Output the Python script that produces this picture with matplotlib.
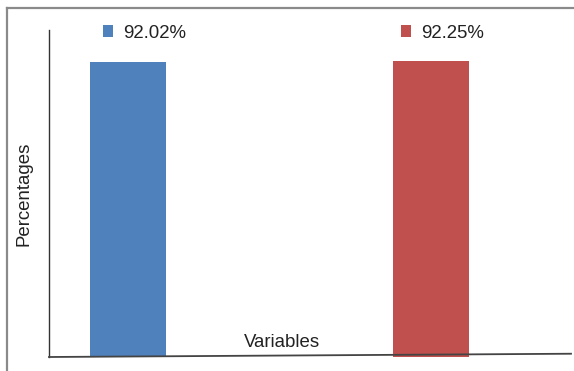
import matplotlib
matplotlib.use("Agg")
import matplotlib.pyplot as plt
from matplotlib.lines import Line2D

plt.rcParams['font.family'] = ['Liberation Sans', 'DejaVu Sans']

# Data
categories = ["Series A", "Series B"]
values = [92.02, 92.25]
colors = ["#4F81BD", "#C0504D"]
labels = [f"{v:.2f}%" for v in values]

W, H = 574, 371
fig = plt.figure(figsize=(W / 100, H / 100), dpi=100)

# Outer chart-area frame (top and left edges visible)
fig.add_artist(Line2D([7 / W, 1.0], [1 - 8 / H, 1 - 8 / H], color="#8a8a8a", lw=1.6))
fig.add_artist(Line2D([7 / W, 7 / W], [0.0, 1 - 8 / H], color="#8a8a8a", lw=1.6))

left_px, right_px, top_px, bot_px = 49, 571, 30, 357
ax = fig.add_axes([left_px / W, (H - bot_px) / H,
                   (right_px - left_px) / W, (bot_px - top_px) / H])

x = list(range(len(values)))
bars = ax.bar(x, values, width=0.251, color=colors, zorder=2)

ax.set_xlim(-0.2607, 1.462)
ax.set_ylim(0, 102)

for s in ["top", "right", "bottom"]:
    ax.spines[s].set_visible(False)
ax.spines["left"].set_color("#333333")
ax.spines["left"].set_linewidth(1.0)
ax.set_xticks([])
ax.set_yticks([])

# Baseline
ax.plot([0, 1], [0, 0.010], transform=ax.transAxes, color="#444444",
        lw=1.3, clip_on=False, zorder=3)

ax.set_ylabel("Percentages", fontsize=13.4, color="#222222")
ax.yaxis.set_label_coords(-0.031, 0.5)
ax.set_xlabel("Variables", fontsize=13.4, color="#222222")
ax.xaxis.set_label_coords(0.446, 0.043)
ax.xaxis.label.set_va("center")

leg = ax.legend(bars, labels, ncol=2, frameon=False, fontsize=13.4,
                handlelength=0.55, handleheight=0.55, handletextpad=0.55,
                columnspacing=11.5, loc="center left",
                bbox_to_anchor=((103 - left_px) / (right_px - left_px), 1.0 - (33 - top_px) / (bot_px - top_px)),
                borderaxespad=0, borderpad=0)
for t in leg.get_texts():
    t.set_color("#222222")

fig.savefig("out.png", dpi=100)
